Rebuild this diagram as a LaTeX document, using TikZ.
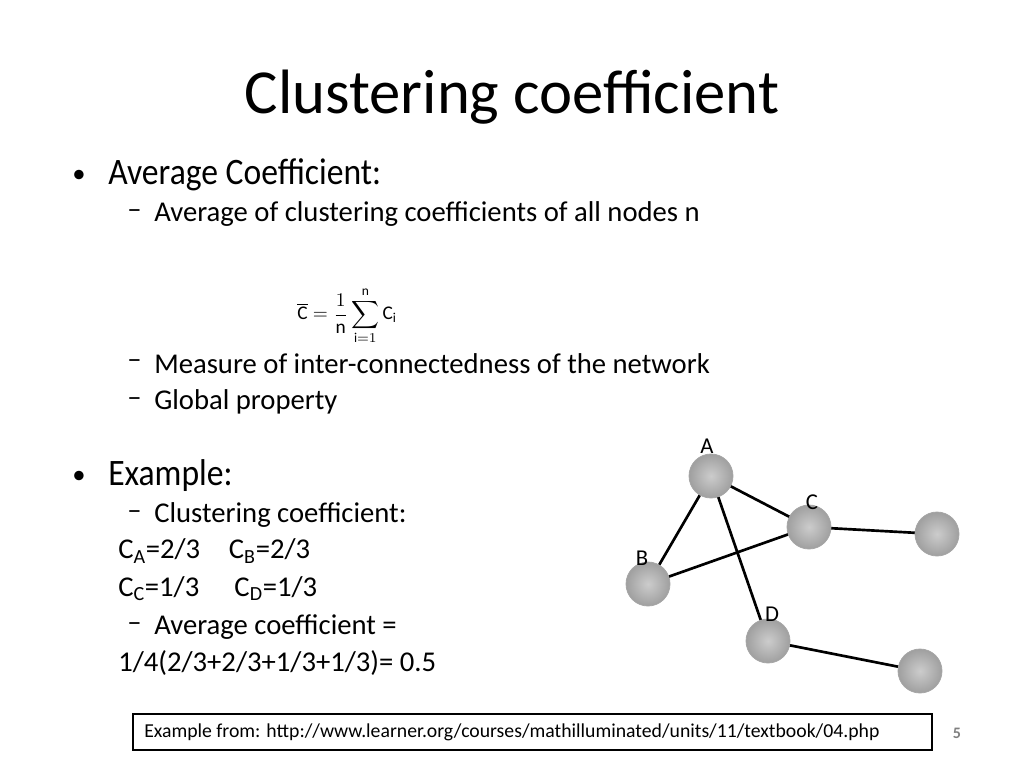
\documentclass[tikz,border=0pt]{standalone}
\usepackage{graphicx}
\usepackage{fontspec}
\setmainfont{Carlito}
\begin{document}
\begin{tikzpicture}[x=0.75pt,y=-0.75pt,
  txt/.style={anchor=west,inner sep=0,font=\fontsize{21.5}{24}\selectfont},
  big/.style={anchor=west,inner sep=0,font=\fontsize{28}{31}\selectfont},
  bul/.style={anchor=west,inner sep=0,font=\fontsize{20}{22}\selectfont},
  gnode/.style={circle,minimum size=33pt,inner sep=0,draw=gray!70,line width=0.6pt,inner color=gray!40,outer color=gray!75},
  lbl/.style={font=\fontsize{17}{19}\selectfont,inner sep=0},
  edge/.style={line width=2pt,black}]
\useasboundingbox (0,0) rectangle (1024,768);
\node[font=\fontsize{47}{50}\selectfont] (title) at (512,97) {Clustering coefficient};
\node[bul] (b1) at (72,176) {•};
\node[big] (t1) at (108,175) {\addfontfeatures{FakeStretch=0.9}Average Coefficient:};
\node[txt] (d1) at (127,214) {–};
\node[txt] (t2) at (154,214) {Average of clustering coefficients of all nodes n};
\node[anchor=west,inner sep=0] (f) at (297,316)
  {\scalebox{1.45}{$\displaystyle\overline{\mathrm{C}}=\frac{1}{\mathrm{n}}\sum_{\mathrm{i}=1}^{\mathrm{n}}\mathrm{C}_{\mathrm{i}}$}};
\node[txt] (d2) at (127,364) {–};
\node[txt] (t3) at (154,364) {Measure of inter-connectedness of the network};
\node[txt] (d3) at (127,402) {–};
\node[txt] (t4) at (154,402) {Global property};
\node[bul] (b2) at (72,477) {•};
\node[big] (t5) at (108,476) {\addfontfeatures{FakeStretch=0.9}Example:};
\node[txt] (d4) at (127,515) {–};
\node[txt] (t6) at (154,515) {Clustering coefficient:};
\node[txt] (t7) at (118,551) {C\textsubscript{A}=2/3\quad C\textsubscript{B}=2/3};
\node[txt] (t8) at (118,589) {C\textsubscript{C}=1/3\quad\ C\textsubscript{D}=1/3};
\node[txt] (d5) at (127,627) {–};
\node[txt] (t9) at (154,627) {Average coefficient =};
\node[txt] (t10) at (118,663) {1/4(2/3+2/3+1/3+1/3)= 0.5};
% graph
\coordinate (pA) at (711,476);
\coordinate (pC) at (809,527);
\coordinate (pR1) at (937,534);
\coordinate (pB) at (648,584);
\coordinate (pD) at (768,641);
\coordinate (pR2) at (920,671);
\draw[edge] (pA)--(pB) (pA)--(pC) (pA)--(pD) (pB)--(pC) (pC)--(pR1) (pD)--(pR2);
\node[gnode] (A) at (pA) {};
\node[gnode] (C) at (pC) {};
\node[gnode] (R1) at (pR1) {};
\node[gnode] (B) at (pB) {};
\node[gnode] (D) at (pD) {};
\node[gnode] (R2) at (pR2) {};
\node[lbl] (lA) at (707,446) {A};
\node[lbl] (lC) at (812,502) {C};
\node[lbl] (lB) at (642,558) {B};
\node[lbl] (lD) at (772,614) {D};
% footer
\draw[line width=1pt] (133,714) rectangle (932,750);
\node[anchor=west,inner sep=0,font=\fontsize{14.8}{16}\selectfont] (src) at (144,732) {Example from: http://www.learner.org/courses/mathilluminated/units/11/textbook/04.php};
\node[font=\bfseries\fontsize{12}{14}\selectfont,text=gray] (pg) at (957,733) {5};
\end{tikzpicture}
\end{document}
